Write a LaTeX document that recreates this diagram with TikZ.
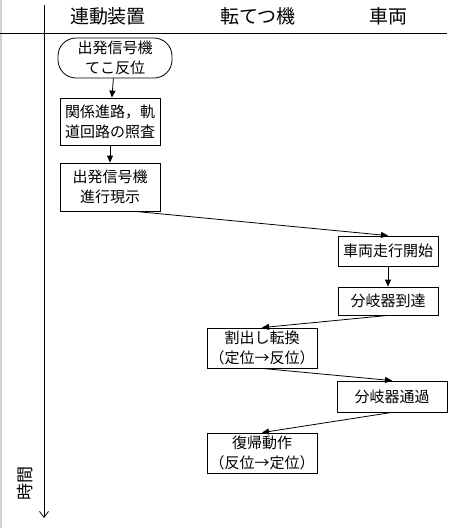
\documentclass[tikz,border=0pt]{standalone}
\usepackage{fontspec}
\setmainfont{Noto Sans CJK JP}
\usetikzlibrary{arrows.meta, calc}

\begin{document}
\begin{tikzpicture}[
    x=1pt, y=-1pt,
    header/.style={font=\fontsize{19}{21}\selectfont},
    stepbox/.style={draw, thick, inner sep=0pt, align=center, font=\fontsize{15}{20}\selectfont},
    startbox/.style={stepbox, rounded corners=18pt},
    arrow/.style={-{Triangle[length=7pt, width=6pt]}, thick}
]
\useasboundingbox (0,0) rectangle (464,528);
\draw[gray!35, line width=2pt] (1,0) -- (1,528);

% Headers and axes
\node[header] (hdrlock) at (108,16) {連動装置};
\node[header] (hdrpoint) at (258,16) {転てつ機};
\node[header] (hdrcar) at (388,16) {車両};
\draw[thick] (0,33) -- (447,33);
\draw[-{Straight Barb[length=6pt, width=9pt]}, thick] (44,5) -- (44,518);
\node[font=\fontsize{17}{18}\selectfont, rotate=90] (timelbl) at (25,483) {時間};

% Steps
\node[startbox, minimum width=114pt, minimum height=40pt] (lever) at (115,58) {出発信号機\\てこ反位};
\node[stepbox, minimum width=100pt, minimum height=47pt] (check) at (110,121.5) {関係進路，軌\\道回路の照査};
\node[stepbox, minimum width=100pt, minimum height=48pt] (signal) at (110,187) {出発信号機\\進行現示};
\node[stepbox, minimum width=100pt, minimum height=30pt] (depart) at (388,251) {車両走行開始};
\node[stepbox, minimum width=100pt, minimum height=28pt] (reach) at (388,301) {分岐器到達};
\node[stepbox, minimum width=110pt, minimum height=40pt] (trail) at (262,348) {割出し転換\\（定位→反位）};
\node[stepbox, minimum width=110pt, minimum height=31pt] (pass) at (392,396.5) {分岐器通過};
\node[stepbox, minimum width=110pt, minimum height=40pt] (reset) at (262,453) {復帰動作\\（反位→定位）};

% Flow
\draw[arrow] (lever) -- (check);
\draw[arrow] (check) -- (signal);
\draw[arrow] ($(signal.south)!0.5!(signal.south east)$) -- (depart.north);
\draw[arrow] (depart) -- (reach);
\draw[arrow] (reach.south) -- (trail.north);
\draw[arrow] (trail.south) -- (pass.north);
\draw[arrow] (pass.south) -- (reset.north);

\end{tikzpicture}
\end{document}
